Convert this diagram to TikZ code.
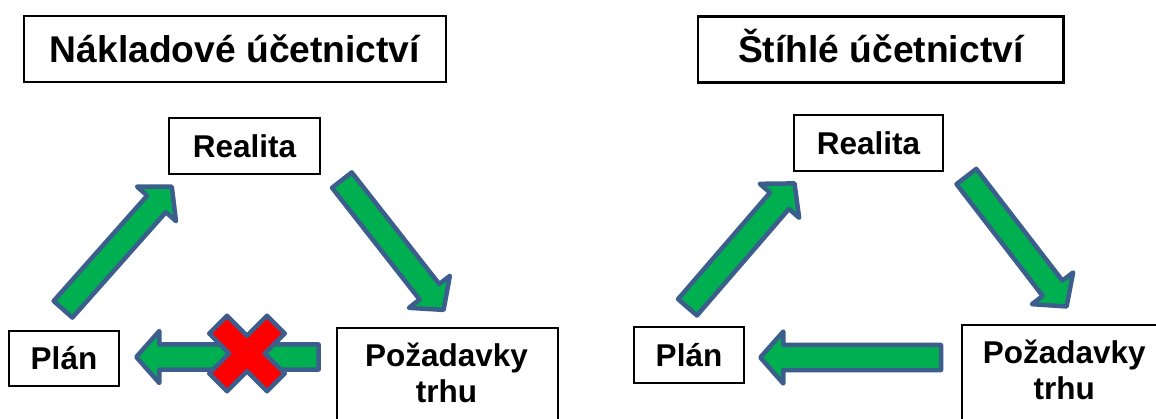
\documentclass[tikz,border=0pt]{standalone}
\usepackage{fontspec}
\setmainfont{Liberation Sans}
\usetikzlibrary{calc}

\definecolor{arrowgreen}{HTML}{00B050}
\definecolor{arrowedge}{HTML}{3B5E8C}
\definecolor{crossred}{HTML}{FF0000}

\tikzset{
  box/.style={draw=black, line width=2.2pt, fill=white, inner sep=0pt, text depth=0pt},
  titlebox/.style={box, text height=26.6pt, font=\fontsize{37.2}{44}\selectfont\bfseries},
  itembox/.style={box, text height=22.6pt, font=\fontsize{31.5}{38}\selectfont\bfseries},
  itemtext/.style={font=\fontsize{31.5}{38}\selectfont\bfseries, inner sep=0pt, anchor=base},
  blockarrow/.style={draw=arrowedge, fill=arrowgreen, line width=4.5pt, line join=round},
  crossmark/.style={draw=arrowedge, fill=crossred, line width=4.5pt, line join=round},
}

% wide block arrow from the tail coordinate #1 to the tip coordinate #2
\newcommand\fatarrow[2]{%
  \path let \p1=($(#2)-(#1)$), \n1={atan2(\y1,\x1)}, \n2={veclen(\x1,\y1)} in
    \pgfextra{\xdef\faang{\n1}\xdef\falen{\n2}};
  \begin{scope}[shift={(#1)}, rotate=\faang, x=1pt, y=1pt]
    \draw[blockarrow] (0,-12.5) -- ({\falen-23},-12.5) -- ({\falen-23},-26)
      -- (\falen,0) -- ({\falen-23},26) -- ({\falen-23},12.5) -- (0,12.5) -- cycle;
  \end{scope}}

% red "multiply" cross centred on coordinate #1
\newcommand\redcross[1]{%
  \begin{scope}[shift={(#1)}]
    \draw[crossmark] (-37.8,-20) -- (-20,-37.8) -- (0,-17.75) -- (20,-37.8)
      -- (37.8,-20) -- (17.75,0) -- (37.8,20) -- (20,37.8) -- (0,17.75)
      -- (-20,37.8) -- (-37.8,20) -- (-17.75,0) -- cycle;
  \end{scope}}

\begin{document}
\begin{tikzpicture}[x=1pt, y=-1pt]
  \useasboundingbox (0,0) rectangle (1156,419);
  \clip (0,0) rectangle (1156,419);
  \fill[white] (0,0) rectangle (1156,419);

  % ---------- left panel: cost accounting ----------
  \node[titlebox, minimum width=422, minimum height=66] (titleL) at (235,49.2) {Nákladové účetnictví};
  \node[itembox, minimum width=151, minimum height=56] (realL) at (244.5,146) {Realita};
  \node[itembox, minimum width=110, minimum height=55] (planL) at (64,358.5) {Plán};
  \node[box, anchor=north west, minimum width=221, minimum height=150] (pozL) at (336,327) {};
  \node[itemtext] (pozL1) at (446.5,366.7) {Požadavky};
  \node[itemtext] (pozL2) at (446.5,402) {trhu};

  \coordinate (a1s) at (63,309.3);    \coordinate (a1e) at (171.8,186.7);
  \coordinate (a2s) at (341.9,180.1); \coordinate (a2e) at (443.6,309.9);
  \coordinate (a3s) at (318.7,357);   \coordinate (a3e) at (136.3,357);
  \coordinate (xL) at (247,353.5);
  \fatarrow{a1s}{a1e}
  \fatarrow{a2s}{a2e}
  \fatarrow{a3s}{a3e}
  \redcross{xL}

  % ---------- right panel: lean accounting ----------
  \node[titlebox, minimum width=365.5, minimum height=66] (titleR) at (880.8,49.5) {Štíhlé účetnictví};
  \node[itembox, minimum width=149.6, minimum height=56] (realR) at (868.5,143) {Realita};
  \node[itembox, minimum width=110, minimum height=56] (planR) at (689,355) {Plán};
  \node[box, anchor=north west, minimum width=207, minimum height=150] (pozR) at (961,324) {};
  \node[itemtext] (pozR1) at (1064.2,363.5) {Požadavky};
  \node[itemtext] (pozR2) at (1064.2,399.5) {trhu};

  \coordinate (b1s) at (687.5,307.3); \coordinate (b1e) at (794.5,183.4);
  \coordinate (b2s) at (966.4,176.5); \coordinate (b2e) at (1066.6,306.5);
  \coordinate (b3s) at (941,357.5);   \coordinate (b3e) at (760.3,357.5);
  \fatarrow{b1s}{b1e}
  \fatarrow{b2s}{b2e}
  \fatarrow{b3s}{b3e}
\end{tikzpicture}
\end{document}
